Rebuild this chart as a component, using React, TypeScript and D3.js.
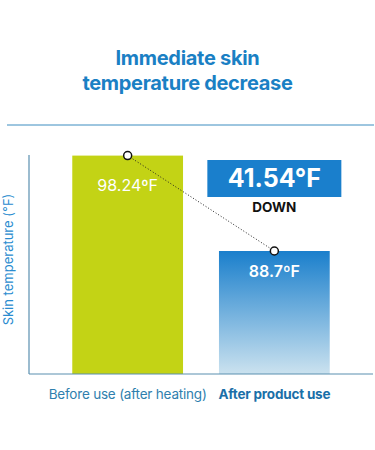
import * as d3 from "d3";

const categories = ["Before use (after heating)", "After product use"];
const values = [98.24, 88.7];
const valueLabels = ["98.24ºF", "88.7ºF"];
const diffLabel = "41.54°F";
const diffNote = "DOWN";
const titleLines = ["Immediate skin", "temperature decrease"];
const yTitle = "Skin temperature (°F)";

const W = 375;
const H = 450;
const FONT = "Inter, Roboto, 'Noto Sans', sans-serif";

export default function App() {
  const axisLeft = 29;
  const axisRight = 373;
  const axisTop = 155;
  const baseY = 374;

  const x = d3
    .scaleBand<string>()
    .domain(categories)
    .range([axisLeft, axisRight])
    .paddingInner(0.245)
    .paddingOuter(0.295);

  const y = d3.scaleLinear().domain([76.4, 98.3]).range([baseY, axisTop]);

  const cx = (i: number) => (x(categories[i]) ?? 0) + x.bandwidth() / 2;
  const pts: [number, number][] = values.map((v, i) => [cx(i), y(v)]);
  const line = d3.line();

  return (
    <svg
      width={W}
      height={H}
      style={{ position: "absolute", left: 0, top: 0, background: "#fff" }}
      fontFamily={FONT}
    >
      <defs>
        <linearGradient id="afterGrad" x1="0" y1="0" x2="0" y2="1">
          <stop offset="0" stopColor="#1a7fcc" />
          <stop offset="1" stopColor="#cbe2ef" />
        </linearGradient>
      </defs>

      {titleLines.map((t, i) => (
        <text
          key={t}
          x={W / 2}
          y={65 + i * 25}
          textAnchor="middle"
          fontSize={20}
          fontWeight={700}
          fill="#1a80c4"
          letterSpacing={-0.3}
        >
          {t}
        </text>
      ))}
      <line x1={7} x2={374} y1={125} y2={125} stroke="#3d8dc0" strokeWidth={1} />

      {/* bars */}
      {values.map((v, i) => (
        <rect
          key={categories[i]}
          x={x(categories[i])}
          y={y(v)}
          width={x.bandwidth()}
          height={baseY - y(v)}
          fill={i === 0 ? "#c3d315" : "url(#afterGrad)"}
        />
      ))}

      {/* axes */}
      <line x1={axisLeft} x2={axisLeft} y1={axisTop} y2={baseY} stroke="#5a8fb0" strokeWidth={1.2} />
      <line x1={axisLeft} x2={axisRight} y1={baseY} y2={baseY} stroke="#5a8fb0" strokeWidth={1.2} />

      <text
        transform={`translate(13,${(axisTop + baseY) / 2 - 5}) rotate(-90)`}
        textAnchor="middle"
        fontSize={13}
        fill="#2a8ccf"
      >
        {yTitle}
      </text>

      {/* value labels */}
      {values.map((v, i) => (
        <text
          key={valueLabels[i]}
          x={cx(i)}
          y={y(v) + (i === 0 ? 35 : 26)}
          textAnchor="middle"
          fontSize={16}
          fontWeight={i === 0 ? 400 : 600}
          fill="#fff"
        >
          {valueLabels[i]}
        </text>
      ))}

      {/* connecting dotted line */}
      <path d={line(pts) ?? ""} fill="none" stroke="#222" strokeWidth={1} strokeDasharray="1,2" />
      {pts.map((p, i) => (
        <circle key={i} cx={p[0]} cy={p[1]} r={4} fill="#fff" stroke="#111" strokeWidth={1.5} />
      ))}

      {/* difference box */}
      <rect x={cx(1) - 67} y={160} width={134} height={37} fill="#1a7fcc" />
      <text x={cx(1)} y={187} textAnchor="middle" fontSize={25} fontWeight={700} fill="#fff">
        {diffLabel}
      </text>
      <text x={cx(1)} y={212} textAnchor="middle" fontSize={13.5} fontWeight={700} fill="#111">
        {diffNote}
      </text>

      {/* category labels */}
      {categories.map((c, i) => (
        <text
          key={c}
          x={cx(i)}
          y={399}
          textAnchor="middle"
          fontSize={13.5}
          fontWeight={i === 0 ? 400 : 700}
          fill={i === 0 ? "#2f7fae" : "#1a6fa8"}
          letterSpacing={-0.2}
        >
          {c}
        </text>
      ))}
    </svg>
  );
}
